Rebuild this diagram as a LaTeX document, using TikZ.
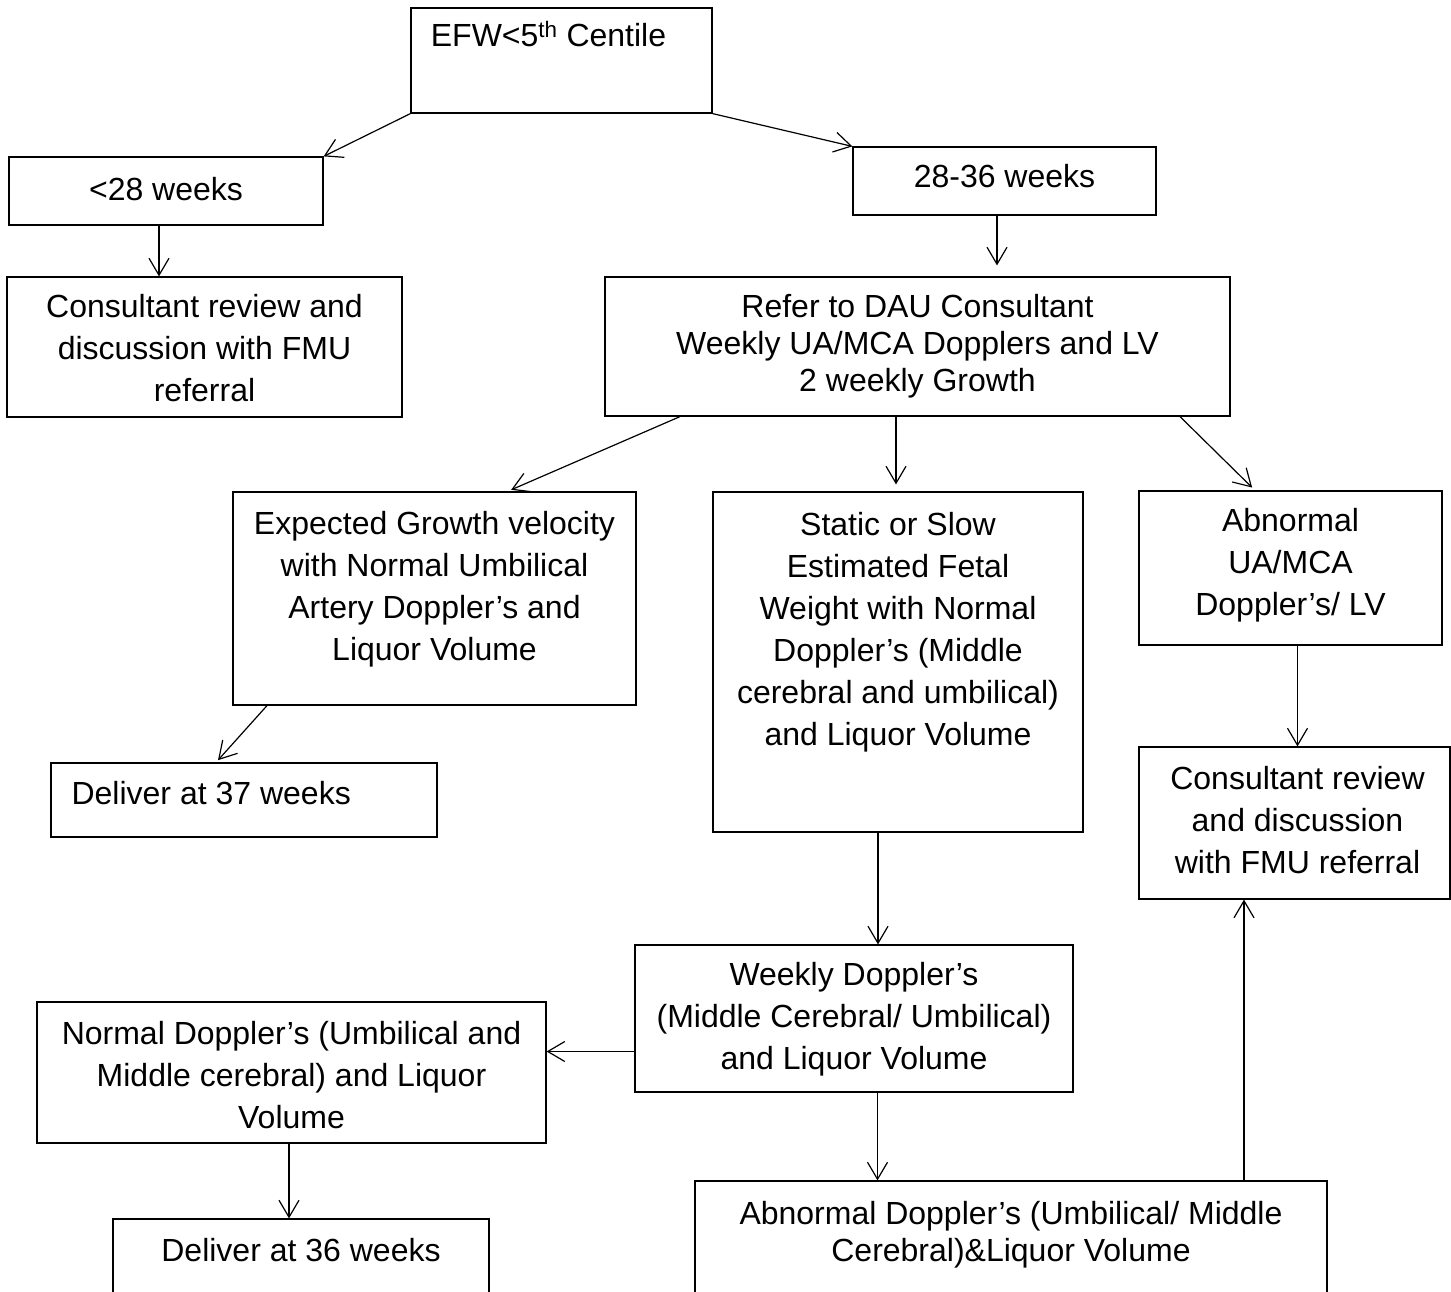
\documentclass[tikz,border=0pt]{standalone}
\usepackage{fontspec}
\setmainfont{Liberation Sans}
\usetikzlibrary{positioning, arrows.meta}

\tikzset{
    flowbox/.style={draw, line width=1.2pt, inner sep=0pt},
    lbl/.style={inner sep=0pt, align=center},
    arr/.style={line width=1.2pt, -{Straight Barb[length=17pt, width=20pt]}},
}

\begin{document}
\begin{tikzpicture}[x=1pt, y=-1pt, font=\fontsize{32}{42}\selectfont]
    \useasboundingbox (0,0) rectangle (1451,1291);
    \clip (0,0) rectangle (1451,1291);

    \node[flowbox, minimum width=301pt, minimum height=105pt] at (561.5,60.5)  (efw)    {};
    \node[flowbox, minimum width=314pt, minimum height=68pt]  at (166,191)     (lt28)   {};
    \node[flowbox, minimum width=303pt, minimum height=68pt]  at (1004.5,181)  (w2836)  {};
    \node[flowbox, minimum width=395pt, minimum height=140pt] at (204.5,347)   (consL)  {};
    \node[flowbox, minimum width=625pt, minimum height=139pt] at (917.5,346.5) (dau)    {};
    \node[flowbox, minimum width=403pt, minimum height=213pt] at (434.5,598.5) (exp)    {};
    \node[flowbox, minimum width=370pt, minimum height=340pt] at (898,662)     (stat)   {};
    \node[flowbox, minimum width=303pt, minimum height=154pt] at (1290.5,568)  (abnUA)  {};
    \node[flowbox, minimum width=386pt, minimum height=74pt]  at (244,800)     (del37)  {};
    \node[flowbox, minimum width=311pt, minimum height=152pt] at (1294.5,823)  (consR)  {};
    \node[flowbox, minimum width=438pt, minimum height=147pt] at (854,1018.5)  (weekly) {};
    \node[flowbox, minimum width=509pt, minimum height=141pt] at (291.5,1072.5) (normal) {};
    \node[flowbox, minimum width=376pt, minimum height=101pt] at (301,1269.5)  (del36)  {};
    \node[flowbox, minimum width=632pt, minimum height=148pt] at (1011,1255)   (abnD)   {};

    \node[lbl, below=14pt of efw.north, xshift=-13pt] (efwt) {EFW<5\textsuperscript{th} Centile};
    \node[lbl, below=21pt of lt28.north] (lt28t) {<28 weeks};
    \node[lbl, below=18pt of w2836.north] (w2836t) {28-36 weeks};
    \node[lbl, below=18pt of consL.north] (consLt) {Consultant review and\\discussion with FMU\\referral};
    \node[lbl, below=18pt of dau.north, font=\fontsize{32}{37}\selectfont] (daut) {Refer to DAU Consultant\\Weekly UA/MCA Dopplers and LV\\2 weekly Growth};
    \node[lbl, below=20pt of exp.north] (expt) {Expected Growth velocity\\with Normal Umbilical\\Artery Doppler’s and\\Liquor Volume};
    \node[lbl, below=21pt of stat.north] (statt) {Static or Slow\\Estimated Fetal\\Weight with Normal\\Doppler’s (Middle\\cerebral and umbilical)\\and Liquor Volume};
    \node[lbl, below=18pt of abnUA.north] (abnUAt) {Abnormal\\UA/MCA\\Doppler’s/ LV};
    \node[lbl, below right=19pt and 21pt of del37.north west] (del37t) {Deliver at 37 weeks};
    \node[lbl, below=20pt of consR.north, xshift=3pt] (consRt) {Consultant review\\and discussion\\with FMU referral};
    \node[lbl, below=18pt of weekly.north] (weeklyt) {Weekly Doppler’s\\(Middle Cerebral/ Umbilical)\\and Liquor Volume};
    \node[lbl, below=20pt of normal.north] (normalt) {Normal Doppler’s (Umbilical and\\Middle cerebral) and Liquor\\Volume};
    \node[lbl, below=20pt of del36.north] (del36t) {Deliver at 36 weeks};
    \node[lbl, below=21pt of abnD.north, font=\fontsize{32}{37}\selectfont] (abnDt) {Abnormal Doppler’s (Umbilical/ Middle\\Cerebral)\&Liquor Volume};

    \draw[arr] (efw.south west) -- (lt28.north east);
    \draw[arr] (efw.south east) -- (w2836.north west);
    \draw[arr] ([xshift=-7pt]lt28.south) -- ([xshift=-7pt]lt28.south |- consL.north);
    \draw[arr, shorten >=11pt] ([xshift=-7.5pt]w2836.south) -- ([xshift=-7.5pt]w2836.south |- dau.north);
    \draw[arr, shorten >=4pt] ([xshift=-237.5pt]dau.south) -- ([xshift=73pt]exp.north);
    \draw[arr, shorten >=7pt] ([xshift=-21.5pt]dau.south) -- ([xshift=-21.5pt]dau.south |- stat.north);
    \draw[arr, shorten >=4pt] ([xshift=262.5pt]dau.south) -- ([xshift=-35.5pt]abnUA.north);
    \draw[arr, shorten >=3pt] ([xshift=-167.5pt]exp.south) -- ([xshift=-28pt]del37.north);
    \draw[arr] ([xshift=-20pt]stat.south) -- ([xshift=-20pt]stat.south |- weekly.north);
    \draw[arr] ([xshift=7pt]abnUA.south) -- ([xshift=7pt]abnUA.south |- consR.north);
    \draw[arr] ([yshift=-33pt]weekly.west) -- ([yshift=-33pt]weekly.west -| normal.east);
    \draw[arr] ([xshift=23.5pt]weekly.south) -- ([xshift=23.5pt]weekly.south |- abnD.north);
    \draw[arr] ([xshift=-2.5pt]normal.south) -- ([xshift=-2.5pt]normal.south |- del36.north);
    \draw[arr] ([xshift=233pt]abnD.north) -- ([xshift=233pt]abnD.north |- consR.south);
\end{tikzpicture}
\end{document}
